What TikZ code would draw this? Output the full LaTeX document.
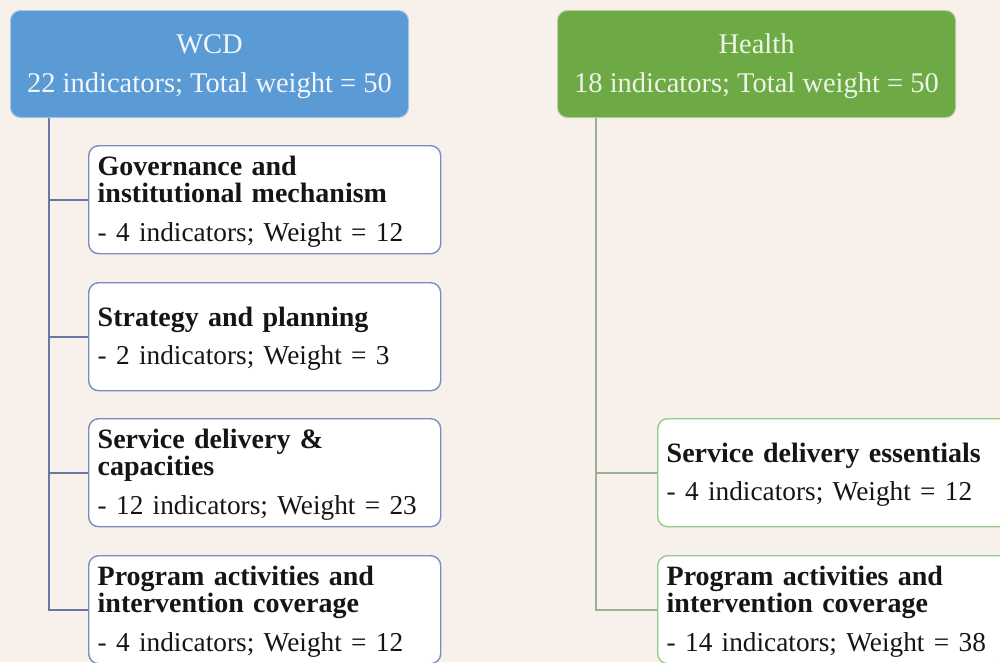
\documentclass[tikz,border=0pt]{standalone}
\usepackage{fontspec}
\setmainfont{Liberation Serif}
\definecolor{bgcol}{HTML}{F8F0EB}
\definecolor{wcdfill}{HTML}{5B9BD5}
\definecolor{wcdtext}{HTML}{F2F6FC}
\definecolor{wcdedge}{HTML}{7A8CC4}
\definecolor{wcdline}{HTML}{6B76A6}
\definecolor{hlfill}{HTML}{6DAA45}
\definecolor{hltext}{HTML}{EDF5E6}
\definecolor{hledge}{HTML}{93CB88}
\definecolor{hlline}{HTML}{9DAF8E}
\definecolor{ink}{HTML}{151515}
% heading box text: title line over a summary line
\newcommand{\headtext}[2]{\rule{0pt}{25pt}#1\\#2}
% item text: bold heading lines, then a plain detail line
\newcommand{\itemhead}[1]{{\fontsize{28}{27}\selectfont\bfseries #1}}
\newcommand{\itemdetail}[1]{{\fontsize{27.3}{27}\selectfont #1}}
\begin{document}
\begin{tikzpicture}[x=1pt,y=-1pt,
  headbox/.style={rectangle, rounded corners=10pt, anchor=north west,
    minimum width=398pt, minimum height=107pt, inner sep=0pt, align=center,
    font=\fontsize{28.5}{39}\selectfont, line width=1pt},
  itembox/.style={rectangle, rounded corners=10pt, anchor=north west, fill=white,
    text width=334pt, inner xsep=9pt, inner ysep=0pt, minimum height=108pt,
    align=left, text=ink, font=\fontsize{28}{27}\selectfont, line width=1.4pt,
    execute at begin node={\rule{0pt}{24pt}}},
  wcditem/.style={itembox, draw=wcdedge},
  hlitem/.style={itembox, draw=hledge},
  wline/.style={draw=wcdline, line width=1.8pt},
  hline/.style={draw=hlline, line width=1.8pt}]
\useasboundingbox (0,0) rectangle (1000,662);
\clip (0,0) rectangle (1000,662);
\fill[bgcol] (0,0) rectangle (1000,662);

% WCD column
\node[headbox, fill=wcdfill, draw=wcdfill!55!white, text=wcdtext] (wcd) at (10,10)
  {\headtext{WCD}{22 indicators; Total weight = 50}};
\node[wcditem] (gov) at (88,145)
  {\itemhead{Governance and}\\\itemhead{institutional mechanism}\\[12pt]\itemdetail{- 4 indicators; Weight = 12}};
\node[wcditem] (strat) at (88,282)
  {\itemhead{Strategy and planning}\\[11pt]\itemdetail{- 2 indicators; Weight = 3}};
\node[wcditem] (serv) at (88,418)
  {\itemhead{Service delivery \&}\\\itemhead{capacities}\\[12pt]\itemdetail{- 12 indicators; Weight = 23}};
\node[wcditem] (prog) at (88,555)
  {\itemhead{Program activities and}\\\itemhead{intervention coverage}\\[12pt]\itemdetail{- 4 indicators; Weight = 12}};

% Health column
\node[headbox, fill=hlfill, draw=hlfill!55!white, text=hltext] (health) at (557,10)
  {\headtext{Health}{18 indicators; Total weight = 50}};
\node[hlitem] (hserv) at (657,418)
  {\itemhead{Service delivery essentials}\\[11pt]\itemdetail{- 4 indicators; Weight = 12}};
\node[hlitem] (hprog) at (657,555)
  {\itemhead{Program activities and}\\\itemhead{intervention coverage}\\[12pt]\itemdetail{- 14 indicators; Weight = 38}};

% Connectors from each heading's trunk to its items
\draw[wline] ([xshift=39pt]wcd.south west) |- (gov.west);
\draw[wline] ([xshift=39pt]wcd.south west) |- (strat.west);
\draw[wline] ([xshift=39pt]wcd.south west) |- (serv.west);
\draw[wline] ([xshift=39pt]wcd.south west) |- (prog.west);
\draw[hline] ([xshift=39pt]health.south west) |- (hserv.west);
\draw[hline] ([xshift=39pt]health.south west) |- (hprog.west);
\end{tikzpicture}
\end{document}
